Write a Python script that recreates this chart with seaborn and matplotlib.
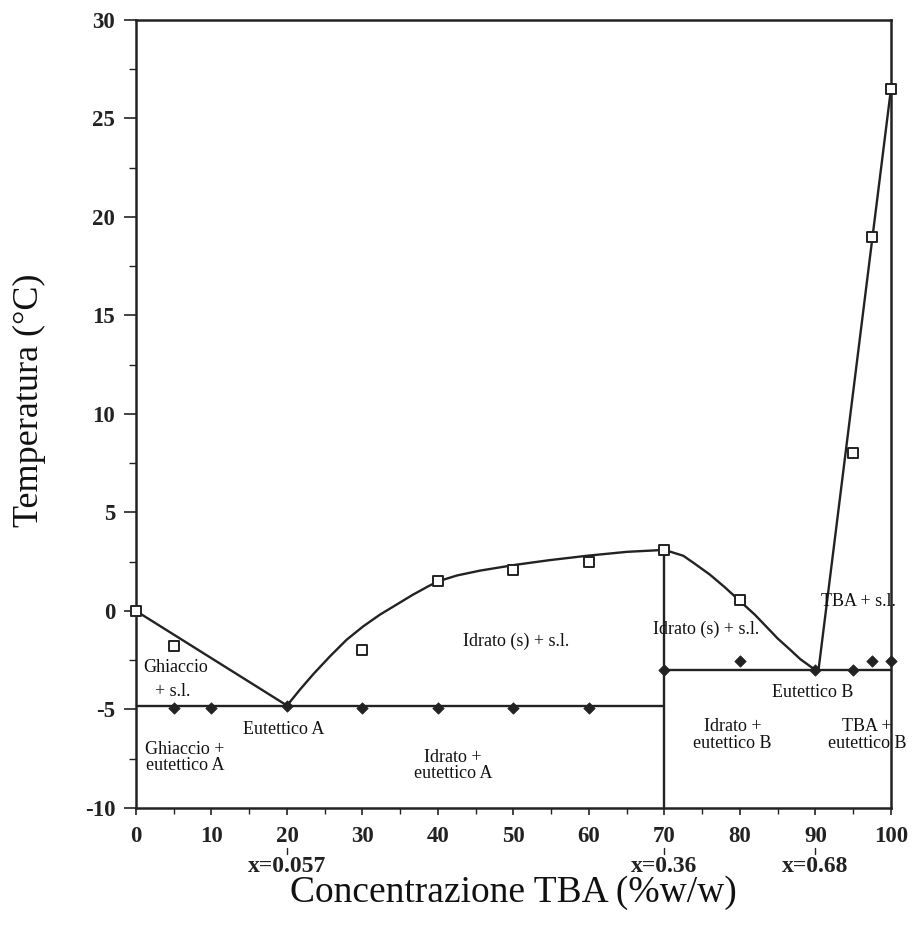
import numpy as np
import pandas as pd
import matplotlib
matplotlib.use("Agg")
import matplotlib.pyplot as plt
import matplotlib.transforms as mtransforms
import seaborn as sns

# ---- data ----
liq_x = [0, 5, 30, 40, 50, 60, 70, 80, 95, 97.5, 100]
liq_y = [0, -1.8, -2.0, 1.5, 2.1, 2.5, 3.1, 0.55, 8.0, 19.0, 26.5]

sol_x = [5, 10, 20, 30, 40, 50, 60, 70, 80, 90, 95, 97.5, 100]
sol_y = [-4.95, -4.95, -4.8, -4.95, -4.95, -4.95, -4.95, -3.0, -2.55, -3.0, -3.0, -2.55, -2.55]

ice_x = [0, 20]
ice_y = [0, -4.8]

hyd_x = [20, 21.7, 23.5, 25.7, 27.9, 30.1, 32.3, 34.5, 36.7, 38.7, 40.0, 42.5,
         45.6, 48.0, 50.4, 54.8, 59.7, 65.0, 70]
hyd_y = [-4.8, -4.0, -3.2, -2.3, -1.46, -0.78, -0.19, 0.32, 0.83, 1.25, 1.5, 1.8,
         2.05, 2.2, 2.35, 2.58, 2.8, 3.0, 3.1]

ret_x = [70, 72.5, 74, 76, 78, 80, 82, 83.5, 85, 86.6, 88, 90]
ret_y = [3.1, 2.8, 2.4, 1.85, 1.2, 0.5, -0.2, -0.8, -1.4, -1.95, -2.45, -3.0]

tba_x = [90.4, 100]
tba_y = [-3.0, 26.5]

eutA_x = [0, 70]
eutA_y = [-4.8, -4.8]
eutB_x = [70, 100]
eutB_y = [-3.0, -3.0]
vert_x = [70, 70]
vert_y = [-10, 3.1]

x_ticks = [0, 10, 20, 30, 40, 50, 60, 70, 80, 90, 100]
y_ticks = [-10, -5, 0, 5, 10, 15, 20, 25, 30]
mole_pos = [20, 70, 90]
mole_lbl = ["x=0.057", "x=0.36", "x=0.68"]

labels = [
    ("Ghiaccio", 5.2, -2.85),
    ("+ s.l.", 4.9, -4.1),
    ("Eutettico A", 19.6, -6.0),
    ("Ghiaccio +\neutettico A", 6.5, -7.45),
    ("Idrato +\neutettico A", 42.0, -7.85),
    ("Idrato (s) + s.l.", 50.4, -1.55),
    ("Idrato (s) + s.l.", 75.5, -0.95),
    ("TBA + s.l.", 95.7, 0.5),
    ("Eutettico B", 89.6, -4.15),
    ("Idrato +\neutettico B", 79.0, -6.3),
    ("TBA +\neutettico B", 96.8, -6.3),
]

# ---- figure ----
sns.set_style("ticks")
plt.rcParams["font.family"] = ["Liberation Serif", "DejaVu Serif"]

fig = plt.figure(figsize=(9.14, 9.25), dpi=100)
ax = fig.add_axes([0.1488, 0.1265, 0.826, 0.852])

lw = 1.7
for xs, ys in [(ice_x, ice_y), (hyd_x, hyd_y), (ret_x, ret_y), (tba_x, tba_y),
               (eutA_x, eutA_y), (eutB_x, eutB_y), (vert_x, vert_y)]:
    sns.lineplot(x=xs, y=ys, ax=ax, color="#222222", lw=lw, sort=False,
                 estimator=None, legend=False, solid_joinstyle="round")

sns.scatterplot(x=sol_x, y=sol_y, ax=ax, marker="D", s=34, color="#222222",
                edgecolor="#222222", linewidth=0.5, zorder=5, legend=False,
                clip_on=False)
sns.scatterplot(x=liq_x, y=liq_y, ax=ax, marker="s", s=60, facecolor="white",
                edgecolor="#222222", linewidth=1.4, zorder=6, legend=False,
                clip_on=False)

ax.set_xlim(0, 100)
ax.set_ylim(-10, 30)
ax.set_xticks(x_ticks)
ax.set_yticks(y_ticks)
ax.set_xticks(np.arange(0, 101, 5), minor=True)
ax.set_yticks(np.arange(-10, 30.1, 2.5), minor=True)
ax.set_xticklabels([str(v) for v in x_ticks], fontweight="bold", fontsize=16.5)
ax.set_yticklabels([str(v) for v in y_ticks], fontweight="bold", fontsize=16.5)
ax.tick_params(axis="x", which="major", direction="out", length=5, width=1.2, pad=8, colors="#222222")
ax.tick_params(axis="x", which="minor", direction="out", length=4, width=1.0, colors="#222222")
ax.tick_params(axis="y", which="major", direction="out", length=9, width=1.2, pad=6, colors="#222222")
ax.tick_params(axis="y", which="minor", direction="out", length=5, width=1.0, colors="#222222")
for s in ax.spines.values():
    s.set_linewidth(1.8)
    s.set_color("#222222")

for txt, x, y in labels:
    ax.text(x, y, txt, ha="center", va="center", fontsize=13,
            color="#111111", linespacing=0.95)

trans = mtransforms.blended_transform_factory(ax.transData, ax.transAxes)
for p, l in zip(mole_pos, mole_lbl):
    ax.plot([p, p], [-0.051, -0.058], transform=trans, color="#222222",
            lw=1.0, clip_on=False)
    ax.text(p, -0.0745, l, transform=trans, ha="center", va="center",
            fontsize=17, fontweight="bold", color="#222222")

ax.text(0.4993, -0.108, "Concentrazione TBA (%w/w)", transform=ax.transAxes,
        ha="center", va="center", fontsize=27, color="#111111")
ax.text(-0.1417, 0.518, "Temperatura (°C)", transform=ax.transAxes,
        ha="center", va="center", rotation=90, fontsize=26, color="#111111")

fig.savefig("out.png", dpi=100, facecolor="white")
